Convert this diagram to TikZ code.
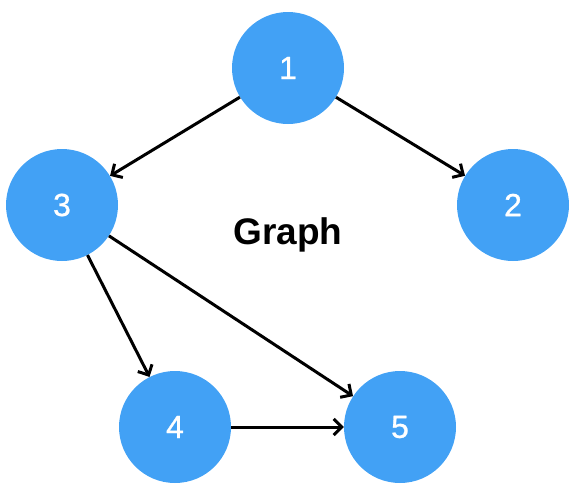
\documentclass[tikz,border=0pt]{standalone}
\usepackage{fontspec}
\setmainfont{Liberation Sans}
\newfontfamily\numfont[FakeBold=0.8]{Liberation Sans}
\usetikzlibrary{arrows.meta}
\definecolor{nodeblue}{HTML}{42A1F5}

\begin{document}
\begin{tikzpicture}[
  x=1pt,y=-1pt,
  vertex/.style={circle,fill=nodeblue,minimum size=112pt,inner sep=0pt,
    text=white,font=\numfont\fontsize{32}{38}\selectfont},
  link/.style={line width=3pt,-{Straight Barb[length=8pt,width=16pt,line width=3pt]}}
]
\useasboundingbox (0,0) rectangle (576,488);
\node[vertex] (n1) at (288,68) {1};
\node[vertex] (n2) at (513,205) {2};
\node[vertex] (n3) at (62,205) {3};
\node[vertex] (n4) at (175,427) {4};
\node[vertex] (n5) at (400,427) {5};
\node[font=\fontsize{37}{44}\selectfont\bfseries] (title) at (288,235) {Graph};
\draw[link] (n1) -- (n3);
\draw[link] (n1) -- (n2);
\draw[link] (n3) -- (n4);
\draw[link] (n3) -- (n5);
\draw[link] (n4) -- (n5);
\end{tikzpicture}
\end{document}
